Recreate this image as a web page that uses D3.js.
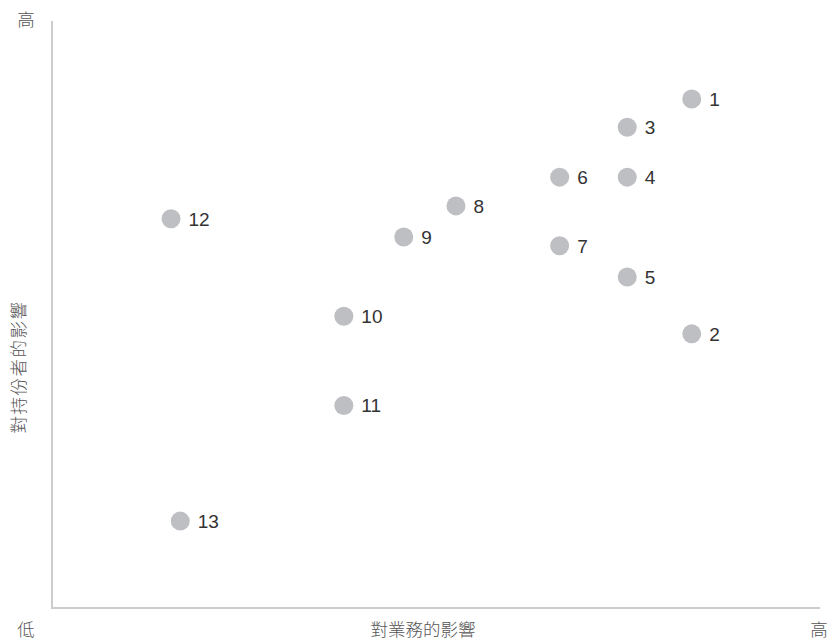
<!DOCTYPE html>
<html lang="zh-Hant">
<head>
    <meta charset="UTF-8">
    <title>重要性矩陣</title>
    <script src="https://cdnjs.cloudflare.com/ajax/libs/d3/7.8.5/d3.min.js"></script>
    <style>
        body { margin: 0; background: #fff; }
        .axis-line { stroke: #cccccc; stroke-width: 2px; }
        .dot { fill: #bebfc3; }
        .num { font-family: "Liberation Sans", Arial, sans-serif; font-size: 19px; fill: #333; }
        .cjk { font-family: "Noto Sans CJK TC", sans-serif; font-size: 17.5px; fill: #555; font-weight: 300; }
    </style>
</head>
<body>
<svg id="chart" width="827" height="643"></svg>
<script>
    // 議題編號與位置（0–100 分）
    const ids = ["1", "2", "3", "4", "5", "6", "7", "8", "9", "10", "11", "12", "13"];
    const businessImpact = [83.3, 83.3, 74.9, 74.9, 74.9, 66.1, 66.1, 52.6, 45.8, 38.0, 38.0, 15.5, 16.7];
    const stakeholderImpact = [86.7, 46.7, 81.9, 73.4, 56.4, 73.4, 61.7, 68.5, 63.2, 49.7, 34.5, 66.3, 14.8];

    const xTitle = "對業務的影響";
    const yTitle = "對持份者的影響";
    const lowLabel = "低";
    const highLabel = "高";

    const svg = d3.select("#chart");
    const plotLeft = 52, plotRight = 820, plotTop = 21, plotBottom = 608;

    const x = d3.scaleLinear().domain([0, 100]).range([plotLeft, plotRight]);
    const y = d3.scaleLinear().domain([0, 100]).range([plotBottom, plotTop]);

    // 座標軸
    svg.append("line").attr("class", "axis-line")
        .attr("x1", plotLeft).attr("y1", plotTop).attr("x2", plotLeft).attr("y2", plotBottom + 1);
    svg.append("line").attr("class", "axis-line")
        .attr("x1", plotLeft - 1).attr("y1", plotBottom).attr("x2", plotRight).attr("y2", plotBottom);

    const points = ids.map((id, i) => ({ id, bx: businessImpact[i], sy: stakeholderImpact[i] }));

    svg.selectAll(".dot").data(points).enter()
        .append("circle").attr("class", "dot")
        .attr("cx", d => x(d.bx)).attr("cy", d => y(d.sy)).attr("r", 9.5);

    svg.selectAll(".num").data(points).enter()
        .append("text").attr("class", "num")
        .attr("x", d => x(d.bx) + 17.5).attr("y", d => y(d.sy))
        .attr("dy", "0.36em")
        .text(d => d.id);

    // 標籤
    svg.append("text").attr("class", "cjk").attr("text-anchor", "middle")
        .attr("x", 26).attr("y", 20).attr("dy", "0.35em").text(highLabel);
    svg.append("text").attr("class", "cjk").attr("text-anchor", "middle")
        .attr("x", 26).attr("y", 630).attr("dy", "0.35em").text(lowLabel);
    svg.append("text").attr("class", "cjk").attr("text-anchor", "middle")
        .attr("x", 819).attr("y", 630).attr("dy", "0.35em").text(highLabel);
    svg.append("text").attr("class", "cjk").attr("text-anchor", "middle")
        .attr("x", 423).attr("y", 630).attr("dy", "0.35em").text(xTitle);
    svg.append("text").attr("class", "cjk").attr("text-anchor", "middle")
        .attr("transform", "translate(19,367) rotate(-90)")
        .attr("letter-spacing", "1.5px")
        .attr("dy", "0.35em").text(yTitle);
</script>
</body>
</html>
